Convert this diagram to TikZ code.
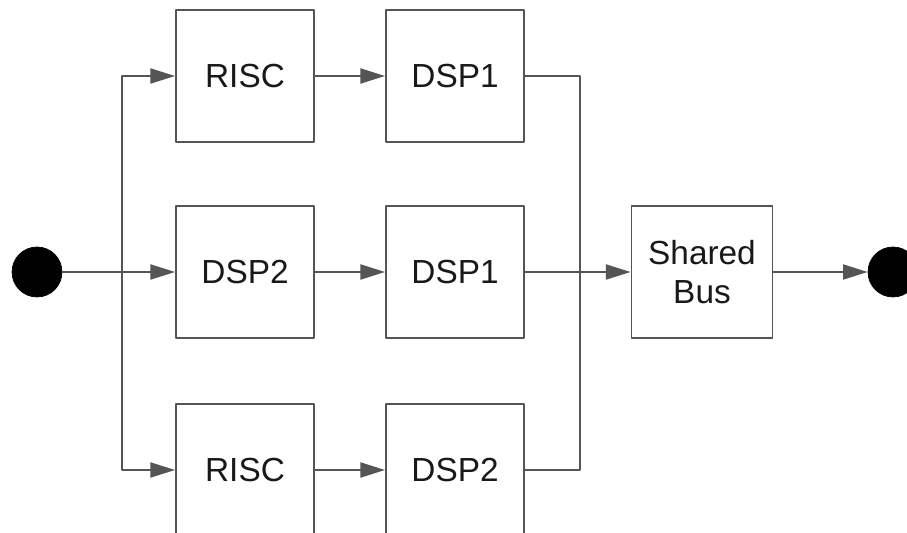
\documentclass[tikz,border=0pt]{standalone}
\usepackage{fontspec}
\setmainfont{Liberation Sans}
\usepackage{tikz}
\usetikzlibrary{arrows.meta}
\usetikzlibrary{positioning}
\definecolor{LineGray}{RGB}{85,85,85}
\definecolor{TextGray}{RGB}{25,25,25}
\begin{document}
\begin{tikzpicture}[line cap=round,line join=round,>={Triangle[length=14pt,width=8.5pt]},x=0.02cm,y=-0.02cm,
  unit/.style={draw=LineGray,line width=1.1pt,fill=white,minimum width=2.76cm,minimum height=2.64cm,inner sep=0pt,
    text=TextGray,font=\fontsize{19}{22.5}\selectfont,align=center},
  terminal/.style={circle,fill=black,draw=black,minimum size=1cm,inner sep=0pt},
  wire/.style={draw=LineGray,line width=1.2pt}]
\useasboundingbox (0,0) rectangle (907,533);
\clip (0,0) rectangle (907,533);
% processing units
\node[unit] (risca) at (245,76) {RISC};
\node[unit] (dspa) at (455,76) {DSP1};
\node[unit] (dspb) at (245,272) {DSP2};
\node[unit] (dspc) at (455,272) {DSP1};
\node[unit] (riscb) at (245,470) {RISC};
\node[unit] (dspd) at (455,470) {DSP2};
\node[unit,minimum width=2.82cm] (bus) at (702,272) {Shared\\Bus};
% start and end
\node[terminal] (start) at (37,272) {};
\node[terminal] (stop) at (893,272) {};
\coordinate (split) at (122,272);
\coordinate (join) at (580,272);
% wires
\draw[wire,->] (start) -- (dspb);
\draw[wire,->] (split) |- (risca);
\draw[wire,->] (split) |- (riscb);
\draw[wire,->] (risca) -- (dspa);
\draw[wire,->] (dspb) -- (dspc);
\draw[wire,->] (riscb) -- (dspd);
\draw[wire] (dspa) -| (join);
\draw[wire] (dspd) -| (join);
\draw[wire,->] (dspc) -- (bus);
\draw[wire,->] (bus) -- (stop);
\end{tikzpicture}
\end{document}
